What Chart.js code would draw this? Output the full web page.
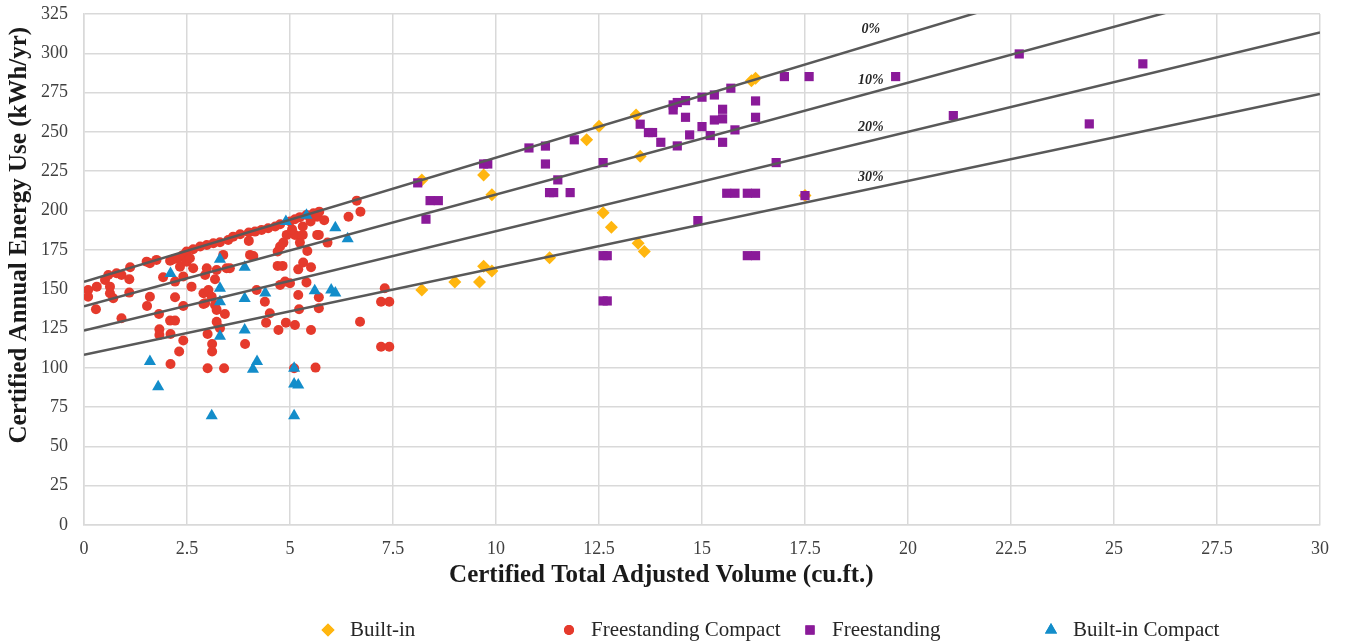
<!DOCTYPE html>
<html>
<head>
<meta charset="utf-8">
<script src="https://cdn.jsdelivr.net/npm/chart.js@4.4.1/dist/chart.umd.min.js"></script>
<style>
  html, body { margin: 0; padding: 0; background: #fff; }
  #wrap { width: 1347px; height: 642px; position: relative; }
</style>
</head>
<body>
<div id="wrap"><canvas id="chart"></canvas></div>
<script>
// Built-in (orange diamonds)
const builtInX = [8.2, 8.2, 9.0, 9.6, 9.7, 9.9, 9.7, 9.9, 11.3, 12.2, 12.5, 12.6, 12.8, 13.4, 13.5, 13.45, 13.6, 16.2, 16.3, 17.5];
const builtInY = [219.5, 149.5, 154.6, 154.6, 164.5, 161.6, 222.6, 210, 170, 245, 253.6, 198.6, 189.3, 260.8, 234.5, 179.2, 174, 282.6, 284.1, 209.5];

// Freestanding Compact (red circles)
const fsCompactX = [
  0.1, 0.1, 0.31, 0.29, 0.51, 0.59, 0.63, 0.63, 0.71, 0.79, 0.91, 0.91, 1.1, 1.1, 1.12,
  1.52, 1.6, 1.6, 1.53, 1.76, 1.82, 1.83, 1.83, 1.92, 2.09, 2.1, 2.1, 2.09, 2.17, 2.21,
  2.21, 2.21, 2.29, 2.31, 2.33, 2.41, 2.41, 2.41, 2.41, 2.49, 2.49, 2.57, 2.61, 2.65, 2.65,
  2.82, 2.9, 2.9, 2.94, 2.94, 2.98, 2.98, 3.0, 3.0, 3.02, 3.1, 3.11, 3.11, 3.14, 3.18,
  3.18, 3.22, 3.22, 3.22, 3.3, 3.3, 3.38, 3.4, 3.42, 3.46, 3.5,
  3.54, 3.62, 3.79, 4.0, 4.03, 4.11, 4.15, 4.19, 4.31, 4.39, 4.42, 4.47, 4.51, 4.64, 4.7,
  4.7, 4.72, 4.76, 4.76, 4.76, 4.82, 4.84, 4.88, 4.9, 4.92, 5.0, 5.0, 5.12, 5.12, 5.12,
  5.2, 5.2, 5.22, 5.24, 5.24, 5.31, 5.31, 5.32, 5.4, 5.4, 5.42, 5.51, 5.51, 5.57, 5.62,
  5.66, 5.66, 5.7, 5.7, 5.7, 5.71, 5.83, 5.91, 6.42, 6.62, 6.71, 6.7, 7.21, 7.3, 7.41,
  7.21, 7.41, 3.91, 5.1, 4.0, 5.05, 5.5
];
const fsCompactY = [
  149.5, 145.2, 151.6, 137.2, 155.9, 159, 151.6, 147.4, 144.2, 160.1, 159, 131.5, 156.3, 147.8, 163.9,
  167.5, 166.5, 145.2, 139.3, 168.6, 134.2, 124.5, 120.9, 157.6, 168.1, 121.5, 102.4, 130, 169, 154.8,
  144.8, 130, 169.6, 110.3, 164.3, 171.8, 158, 139.3, 117.3, 173.9, 167.5, 169.6, 151.6, 175.4, 163.3,
  177.1, 147.4, 140.6, 159, 141, 178.1, 163.3, 121.5, 99.7, 149.5, 145.2, 115.1, 110.3, 179.2, 156.3,
  140, 162.2, 136.8, 129.3, 179.8, 125.1, 171.8, 99.7, 134.2, 163.3, 181.3,
  163.3, 183.4, 184.9, 186, 171.8, 171.1, 186.6, 149.5, 187.7, 142, 128.7, 188.7, 134.7, 189.8, 173.9,
  164.8, 124, 191.3, 177.1, 152.7, 164.8, 179.6, 154.8, 128.7, 184.5, 193, 153.7, 194.5, 184.5, 127.2,
  162.6, 146.3, 137.2, 195.8, 179.6, 189.8, 184.5, 166.9, 197.2, 154.3, 174.3, 163.9, 124, 198.3, 100.1,
  196.1, 184.5, 184.5, 144.8, 137.8, 199.3, 193.9, 179.6, 196.1, 206.3, 199.3, 129.3, 142, 150.6, 142,
  113.4, 113.4, 115.1, 99.7, 180.7, 188, 193
];

// Freestanding (purple squares)
const freestandingX = [
  8.1, 8.3, 8.4, 8.6, 9.7, 9.8, 10.8, 11.2, 11.2, 11.3, 11.4, 11.5, 11.8, 11.9, 12.6,
  12.6, 12.7, 12.6, 12.7, 13.5, 13.7, 13.8, 14.0, 14.3, 14.3, 14.4, 14.4, 14.6, 14.6, 14.7,
  14.9, 15.0, 15.0, 15.2, 15.3, 15.3, 15.5, 15.5, 15.5, 15.6, 15.7, 15.8, 15.8, 16.1, 16.1,
  16.3, 16.3, 16.3, 16.3, 16.8, 17.0, 17.5, 17.6, 19.7, 21.1, 22.7, 24.4, 25.7
];
const freestandingY = [
  217.6, 194.5, 206.3, 206.3, 229.6, 229.6, 239.8, 241, 229.6, 211.4, 211.4, 219.5, 211.4, 245, 230.5,
  171.3, 171.3, 142.5, 142.5, 254.9, 249.6, 249.6, 243.4, 267.2, 264, 268.7, 241.1, 269.9, 259.3, 248.1,
  193.6, 272.1, 253.4, 247.7, 273.5, 257.6, 264.4, 258.3, 243.4, 211, 277.8, 251.3, 211, 211, 171.3,
  211, 171.3, 269.7, 259.3, 230.5, 285.2, 209.5, 285.2, 285.2, 260.4, 299.6, 255.1, 293.3
];

// Built-in Compact (blue triangles)
const biCompactX = [1.6, 1.8, 2.1, 3.1, 3.3, 3.3, 3.3, 3.3, 3.9, 3.9, 3.9, 4.1, 4.2, 4.4, 4.9, 5.1, 5.1, 5.2, 5.1, 5.4, 5.6, 6.0, 6.1, 6.1, 6.4];
const biCompactY = [104, 88, 160, 69.5, 169, 150.5, 142, 120, 164, 144, 124, 99, 104, 147.5, 193, 99.7, 89.7, 89, 69.5, 197, 149, 149.5, 147.5, 189, 182];

// Reference lines (0%, 10%, 20%, 30% below)
const refLineX = [0, 30];
const refLine0 = [154.6, 391.6];
const refLine10 = [139.1, 352.4];
const refLine20 = [123.7, 313.3];
const refLine30 = [108.2, 274.1];
const refLabels = ['0%', '10%', '20%', '30%'];
const refLabelX = 19.1;
const refLabelY = [315, 283, 253, 221];

const seriesNames = ['Built-in', 'Freestanding Compact', 'Freestanding', 'Built-in Compact'];

const colors = {
    orange: '#ffb60f',
    red: '#e53a2c',
    purple: '#8a1a99',
    blue: '#138dca',
    line: '#595959',
    grid: '#d9d9d9'
};

const SERIF = "'Liberation Serif', 'Times New Roman', serif";
const NBSP = '\u00a0';

function zip(xs, ys) {
    return xs.map((x, i) => ({ x: x, y: ys[i] }));
}

function refLine(ys) {
    return {
        type: 'line',
        data: zip(refLineX, ys),
        borderColor: colors.line,
        borderWidth: 2.5,
        pointRadius: 0,
        fill: false,
        order: 0
    };
}

// percent labels next to the reference lines
const refLabelPlugin = {
    id: 'refLabels',
    afterDatasetsDraw(chart) {
        const { ctx, scales } = chart;
        ctx.save();
        ctx.font = "bold italic 14px " + SERIF;
        ctx.fillStyle = '#262626';
        ctx.textAlign = 'center';
        ctx.textBaseline = 'middle';
        refLabels.forEach((t, i) => {
            ctx.fillText(t, scales.x.getPixelForValue(refLabelX), scales.y.getPixelForValue(refLabelY[i]));
        });
        ctx.restore();
    }
};

// Excel-like legend: equal columns at the bottom
const bottomLegend = {
    id: 'bottomLegend',
    afterDraw(chart) {
        const { ctx } = chart;
        const styles = [
            { shape: 'rectRot', color: colors.orange, r: 6.5 },
            { shape: 'circle', color: colors.red, r: 5 },
            { shape: 'rect', color: colors.purple, r: 6.5 },
            { shape: 'triangle', color: colors.blue, r: 7 }
        ];
        const y = 630;
        ctx.save();
        ctx.font = "21px " + SERIF;
        ctx.textBaseline = 'middle';
        ctx.fillStyle = '#262626';
        seriesNames.forEach((name, i) => {
            const mx = 328 + i * 241;
            const s = styles[i];
            ctx.save();
            ctx.fillStyle = s.color;
            ctx.strokeStyle = s.color;
            Chart.helpers.drawPoint(ctx, { pointStyle: s.shape, radius: s.r, borderWidth: 0 }, mx, y);
            ctx.fill();
            ctx.restore();
            ctx.fillText(name, mx + 22, y);
        });
        ctx.restore();
    }
};

const ctx = document.getElementById('chart').getContext('2d');

new Chart(ctx, {
    type: 'scatter',
    data: {
        datasets: [
            refLine(refLine0),
            refLine(refLine10),
            refLine(refLine20),
            refLine(refLine30),
            { label: seriesNames[3], data: zip(biCompactX, biCompactY), pointStyle: 'triangle', pointRadius: 7, backgroundColor: colors.blue, borderWidth: 0, order: 1 },
            { label: seriesNames[2], data: zip(freestandingX, freestandingY), pointStyle: 'rect', pointRadius: 6.5, backgroundColor: colors.purple, borderWidth: 0, order: 2 },
            { label: seriesNames[1], data: zip(fsCompactX, fsCompactY), pointStyle: 'circle', pointRadius: 5, backgroundColor: colors.red, borderWidth: 0, order: 3 },
            { label: seriesNames[0], data: zip(builtInX, builtInY), pointStyle: 'rectRot', pointRadius: 6.5, backgroundColor: colors.orange, borderWidth: 0, order: 4 }
        ]
    },
    options: {
        responsive: true,
        maintainAspectRatio: false,
        animation: false,
        layout: { padding: { top: 14, right: 27, left: 0, bottom: 47 } },
        plugins: {
            legend: { display: false },
            tooltip: { enabled: false }
        },
        scales: {
            x: {
                type: 'linear',
                min: 0,
                max: 30,
                afterFit: s => { s.height = 70; },
                ticks: {
                    stepSize: 2.5,
                    padding: 13,
                    color: '#404040',
                    font: { family: SERIF, size: 18 },
                    callback: v => String(v)
                },
                grid: { color: colors.grid, lineWidth: 1.5, drawTicks: false },
                border: { color: colors.grid, width: 1.5 },
                title: {
                    display: true,
                    // trailing spaces move the title left, as in the original
                    text: 'Certified Total Adjusted Volume (cu.ft.)' + NBSP.repeat(13),
                    color: '#1a1a1a',
                    font: { family: SERIF, size: 25, weight: 'bold' },
                    padding: { top: 0 }
                }
            },
            y: {
                min: 0,
                max: 325,
                afterFit: s => { s.width = 84; s.paddingTop = 0; s.paddingBottom = 0; },
                ticks: {
                    stepSize: 25,
                    padding: 16,
                    color: '#404040',
                    font: { family: SERIF, size: 18 }
                },
                grid: { color: colors.grid, lineWidth: 1.5, drawTicks: false },
                border: { color: colors.grid, width: 1.5 },
                title: {
                    display: true,
                    text: NBSP.repeat(11) + 'Certified Annual Energy Use (kWh/yr)',
                    color: '#1a1a1a',
                    font: { family: SERIF, size: 25, weight: 'bold' },
                    padding: { top: 5, bottom: 0 }
                }
            }
        }
    },
    plugins: [refLabelPlugin, bottomLegend]
});
</script>
</body>
</html>
